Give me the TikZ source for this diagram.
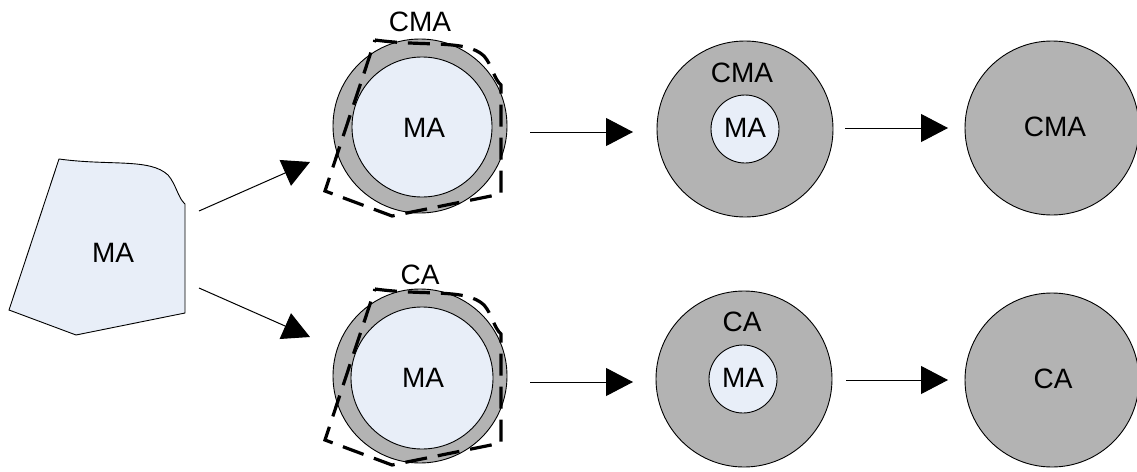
\documentclass[tikz,border=0pt]{standalone}
\usepackage{fontspec}
\setmainfont{Liberation Sans}
\usetikzlibrary{arrows.meta}
\definecolor{lightma}{HTML}{E8EEF8}
\definecolor{shellgray}{HTML}{B3B3B3}
\tikzset{
  lbl/.style={inner sep=0pt, font=\fontsize{28}{32}\selectfont},
  outer/.style={circle, draw=black, line width=0.9pt, fill=shellgray, inner sep=0pt},
  inner/.style={circle, draw=black, line width=0.9pt, fill=lightma, inner sep=0pt},
  arr/.style={line width=1pt, -{Triangle[length=27pt,width=28pt]}},
  dashshape/.style={line width=3.2pt, dash pattern=on 22pt off 11pt, line join=miter},
}
\newcommand{\mashape}{(59,159) .. controls (110,166) and (150,158) .. (168,175) .. controls (176,184) and (178,198) .. (185,204) -- (185,313) -- (76,335) -- (9,310) -- cycle}
\begin{document}
\begin{tikzpicture}[x=1pt,y=-1pt]
\useasboundingbox (0,0) rectangle (1137,471);
% source polygon
\draw[fill=lightma, line width=0.9pt] \mashape;
\node[lbl] (ma) at (113,253) {MA};
% first column
\node[outer, minimum size=174pt] (c1t) at (420,126) {};
\node[inner, minimum size=140pt] (i1t) at (422,127) {};
\node[lbl] (m1t) at (424,128) {MA};
\node[lbl] (l1t) at (420,22) {CMA};
\draw[dashshape, shift={(316,-119)}] \mashape;
\node[outer, minimum size=174pt] (c1b) at (420,376) {};
\node[inner, minimum size=142pt] (i1b) at (422,378) {};
\node[lbl] (m1b) at (423,378) {MA};
\node[lbl] (l1b) at (420,275) {CA};
\draw[dashshape, shift={(316,130)}] \mashape;
% second column
\node[outer, minimum size=176pt] (c2t) at (745,129) {};
\node[inner, minimum size=68pt] (i2t) at (745,129) {};
\node[lbl] (m2t) at (745,128) {MA};
\node[lbl] (l2t) at (742,73) {CMA};
\node[outer, minimum size=176pt] (c2b) at (744,379) {};
\node[inner, minimum size=68pt] (i2b) at (743,379) {};
\node[lbl] (m2b) at (743,378) {MA};
\node[lbl] (l2b) at (742,322) {CA};
% third column
\node[outer, minimum size=174pt] (c3t) at (1052,128) {};
\node[lbl] (l3t) at (1055,127) {CMA};
\node[outer, minimum size=174pt] (c3b) at (1052,380) {};
\node[lbl] (l3b) at (1053,379) {CA};
% connector ends
\coordinate (s1) at (199,211);
\coordinate (e1) at (310,162);
\coordinate (s2) at (199,288);
\coordinate (e2) at (310,337);
\coordinate (s3) at (530,132);
\coordinate (e3) at (633,132);
\coordinate (s4) at (530,382);
\coordinate (e4) at (633,382);
\coordinate (s5) at (845,128);
\coordinate (e5) at (948,128);
\coordinate (s6) at (846,380);
\coordinate (e6) at (948,380);
\draw[arr] (s1) -- (e1);
\draw[arr] (s2) -- (e2);
\draw[arr] (s3) -- (e3);
\draw[arr] (s4) -- (e4);
\draw[arr] (s5) -- (e5);
\draw[arr] (s6) -- (e6);
\end{tikzpicture}
\end{document}
